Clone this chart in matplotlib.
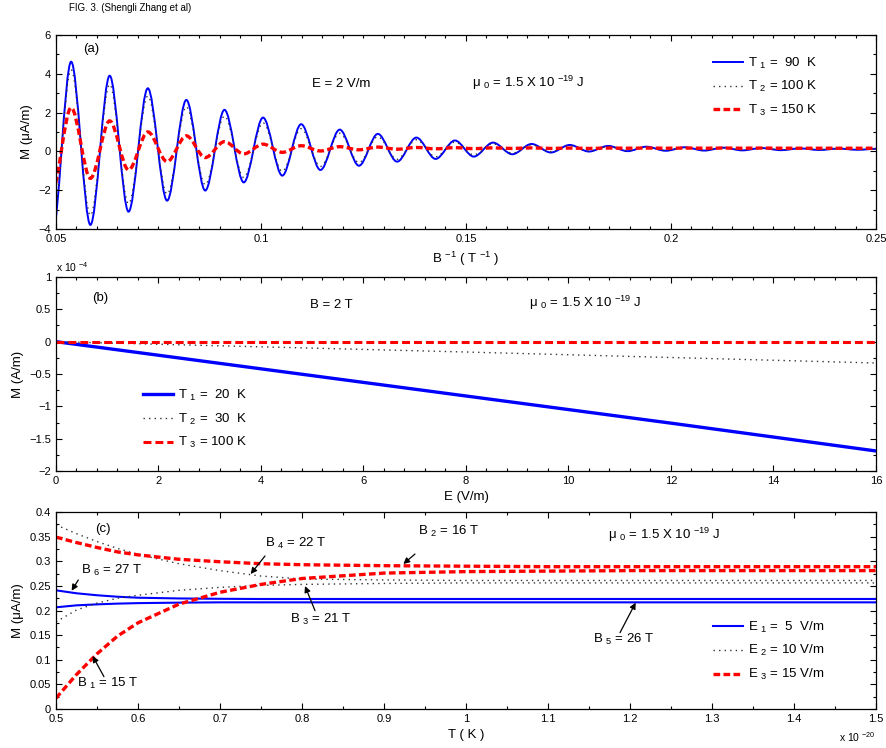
import matplotlib
matplotlib.use('Agg')
import matplotlib.pyplot as plt
from matplotlib.path import Path
from matplotlib.patches import PathPatch
from matplotlib.lines import Line2D
from matplotlib.ticker import MultipleLocator, FuncFormatter

plt.rcParams['font.family'] = ['Liberation Sans', 'DejaVu Sans']
plt.rcParams['mathtext.fontset'] = 'custom'
plt.rcParams['mathtext.rm'] = 'Liberation Sans'
plt.rcParams['mathtext.it'] = 'Liberation Sans:italic'
plt.rcParams['mathtext.bf'] = 'Liberation Sans:bold'

# ---------------------------------------------------------------
# (a) M vs 1/B : extrema of the oscillations (peaks / troughs)
# ---------------------------------------------------------------
inv_B = [0.0490, 0.0537, 0.0584, 0.0631, 0.0677, 0.0724, 0.0771, 0.0818, 0.0864,
         0.0911, 0.0958, 0.1005, 0.1052, 0.1098, 0.1145, 0.1192, 0.1239, 0.1285,
         0.1332, 0.1379, 0.1426, 0.1473, 0.1519, 0.1566, 0.1613, 0.1660, 0.1707,
         0.1753, 0.1800, 0.1847, 0.1894, 0.1940, 0.1987, 0.2034, 0.2081, 0.2128,
         0.2174, 0.2221, 0.2268, 0.2315, 0.2362, 0.2408, 0.2455, 0.2502]
M_a_T1 = [-4.55, 4.62, -3.79, 3.90, -3.11, 3.25, -2.54, 2.65, -2.02, 2.14, -1.60,
          1.74, -1.25, 1.40, -0.96, 1.12, -0.74, 0.90, -0.53, 0.71, -0.39, 0.56,
          -0.27, 0.45, -0.15, 0.38, -0.06, 0.33, -0.01, 0.28, 0.01, 0.24, 0.03,
          0.21, 0.04, 0.19, 0.05, 0.17, 0.06, 0.15, 0.07, 0.14, 0.08, 0.13]
M_a_T2 = [-4.00, 4.20, -3.30, 3.45, -2.70, 2.85, -2.20, 2.30, -1.72, 1.82, -1.35,
          1.47, -1.03, 1.17, -0.78, 0.93, -0.58, 0.75, -0.41, 0.60, -0.28, 0.48,
          -0.18, 0.39, -0.09, 0.33, -0.02, 0.29, 0.02, 0.25, 0.04, 0.22, 0.05,
          0.20, 0.06, 0.18, 0.07, 0.16, 0.08, 0.15, 0.09, 0.14, 0.09, 0.13]
M_a_T3 = [-2.10, 2.25, -1.39, 1.57, -0.96, 1.00, -0.53, 0.80, -0.32, 0.50, -0.13,
          0.37, -0.05, 0.29, 0.02, 0.24, 0.08, 0.22, 0.11, 0.20, 0.13, 0.19,
          0.14, 0.18, 0.15, 0.18, 0.15, 0.17, 0.15, 0.17, 0.16, 0.17, 0.16,
          0.17, 0.16, 0.17, 0.16, 0.17, 0.16, 0.16, 0.16, 0.16, 0.16, 0.16]
labels_a = [r'T $_1$ =  90  K', r'T $_2$ = 100 K', r'T $_3$ = 150 K']

# ---------------------------------------------------------------
# (b) M vs E  (values in units of 1e-4 A/m)
# ---------------------------------------------------------------
E_b = [0, 4, 8, 12, 16]
M_b_T1 = [0.0, -0.42, -0.84, -1.26, -1.69]
M_b_T2 = [0.0, -0.08, -0.16, -0.245, -0.33]
M_b_T3 = [0.0, 0.0, 0.0, 0.0, 0.0]
labels_b = [r'T $_1$ =  20  K', r'T $_2$ =  30  K', r'T $_3$ = 100 K']

# ---------------------------------------------------------------
# (c) M vs T  (T in units of 1e-20 K)
# ---------------------------------------------------------------
T_c = [0.5, 0.525, 0.55, 0.575, 0.6, 0.65, 0.7, 0.75, 0.8, 0.9, 1.0, 1.1, 1.2, 1.3, 1.4, 1.5]
M_c_B1 = [0.022, 0.070, 0.112, 0.148, 0.175, 0.213, 0.237, 0.253, 0.265, 0.276, 0.279,
          0.280, 0.281, 0.281, 0.281, 0.281]
M_c_B2 = [0.349, 0.338, 0.328, 0.319, 0.313, 0.304, 0.299, 0.295, 0.293, 0.291, 0.290,
          0.289, 0.289, 0.289, 0.289, 0.289]
M_c_B3 = [0.177, 0.201, 0.215, 0.225, 0.231, 0.241, 0.247, 0.251, 0.253, 0.255, 0.256,
          0.256, 0.256, 0.256, 0.256, 0.256]
M_c_B4 = [0.374, 0.356, 0.340, 0.326, 0.314, 0.295, 0.281, 0.270, 0.264, 0.262, 0.261,
          0.261, 0.261, 0.261, 0.261, 0.261]
M_c_B5 = [0.2065, 0.2105, 0.2125, 0.214, 0.215, 0.216, 0.2166, 0.2166, 0.2166, 0.2166,
          0.2166, 0.2166, 0.2166, 0.2166, 0.2166, 0.2166]
M_c_B6 = [0.241, 0.235, 0.231, 0.228, 0.226, 0.2245, 0.2238, 0.2234, 0.2234, 0.2234,
          0.2234, 0.2234, 0.2234, 0.2234, 0.2234, 0.2234]
labels_c = [r'E $_1$ =  5  V/m', r'E $_2$ = 10 V/m', r'E $_3$ = 15 V/m']

BLUE = '#0000ff'
RED = '#ff0000'
DOT = '#333333'
mu_text = r'μ $_0$ = 1.5 X 10 $^{-19}$ J'

# line styles: (color, lw, linestyle)
sty_solid_a = dict(color=BLUE, lw=1.4, linestyle='-')
sty_dot = dict(color=DOT, lw=1.0, linestyle=(0, (1, 3)))
sty_dash = dict(color=RED, lw=2.4, linestyle=(0, (2.0, 1.0)))


def smooth_path(xs, ys, k=1.0 / 3):
    """Bezier path through the extrema with flat tangents at each one."""
    verts = [(xs[0], ys[0])]
    codes = [Path.MOVETO]
    for i in range(len(xs) - 1):
        h = xs[i + 1] - xs[i]
        verts += [(xs[i] + k * h, ys[i]), (xs[i + 1] - k * h, ys[i + 1]), (xs[i + 1], ys[i + 1])]
        codes += [Path.CURVE4] * 3
    return Path(verts, codes)


def style_axes(ax):
    ax.tick_params(which='both', direction='in', top=True, right=True, labelsize=8, width=0.8)
    ax.tick_params(which='major', length=4.5)
    ax.tick_params(which='minor', length=2.5)
    fmt = FuncFormatter(lambda v, p: f'{v:g}'.replace('-', '\u2212'))
    ax.xaxis.set_major_formatter(fmt)
    ax.yaxis.set_major_formatter(fmt)
    for sp in ax.spines.values():
        sp.set_linewidth(0.9)


leg_kw = dict(loc='upper left', frameon=False, fontsize=9.5, handlelength=2.3,
              handletextpad=0.35, labelspacing=0.66, borderpad=0, borderaxespad=0)

fig = plt.figure(figsize=(8.87, 7.48), dpi=100)
fig.text(69 / 887, 1 - 8 / 748, 'FIG. 3. (Shengli Zhang et al)', fontsize=7, va='center')

ax_a = fig.add_axes([0.0631, 0.6939, 0.9245, 0.2594])
ax_b = fig.add_axes([0.0631, 0.3703, 0.9245, 0.2594])
ax_c = fig.add_axes([0.0631, 0.0521, 0.9245, 0.2634])

# ----------------------------- (a)
for ys, st in [(M_a_T1, sty_solid_a), (M_a_T2, sty_dot), (M_a_T3, sty_dash)]:
    ax_a.add_patch(PathPatch(smooth_path(inv_B, ys), fill=False, edgecolor=st['color'],
                             lw=st['lw'], linestyle=st['linestyle']))
ax_a.set_xlim(0.05, 0.25)
ax_a.set_ylim(-4, 6)
ax_a.xaxis.set_major_locator(MultipleLocator(0.05))
ax_a.xaxis.set_minor_locator(MultipleLocator(0.005))
ax_a.yaxis.set_major_locator(MultipleLocator(2))
ax_a.yaxis.set_minor_locator(MultipleLocator(1))
style_axes(ax_a)
ax_a.set_xlabel(r'B $^{-1}$ ( T $^{-1}$ )', fontsize=9.5)
ax_a.set_ylabel('M (μA/m)', fontsize=9.5)
ax_a.text(0.033, 0.928, '(a)', transform=ax_a.transAxes, fontsize=9.5, va='center')
ax_a.text(0.312, 0.747, 'E = 2 V/m', transform=ax_a.transAxes, fontsize=9.5, va='center')
ax_a.text(0.507, 0.754, mu_text, transform=ax_a.transAxes, fontsize=9.5, va='center')
handles_a = [Line2D([], [], **sty_solid_a), Line2D([], [], **sty_dot), Line2D([], [], **sty_dash)]
ax_a.legend(handles_a, labels_a, bbox_to_anchor=(0.801, 0.894), **leg_kw)

# ----------------------------- (b)
sty_solid_b = dict(color=BLUE, lw=2.4, linestyle='-')
sty_dash_b = dict(color=RED, lw=2.2, linestyle=(0, (2.6, 1.3)))
ax_b.plot(E_b, M_b_T1, **sty_solid_b, label=labels_b[0])
ax_b.plot(E_b, M_b_T2, **sty_dot, label=labels_b[1])
ax_b.plot(E_b, M_b_T3, **sty_dash_b, label=labels_b[2])
ax_b.set_xlim(0, 16)
ax_b.set_ylim(-2, 1)
ax_b.xaxis.set_major_locator(MultipleLocator(2))
ax_b.xaxis.set_minor_locator(MultipleLocator(0.4))
ax_b.yaxis.set_major_locator(MultipleLocator(0.5))
ax_b.yaxis.set_minor_locator(MultipleLocator(0.25))
style_axes(ax_b)
ax_b.set_xlabel('E (V/m)', fontsize=9.5)
ax_b.set_ylabel('M (A/m)', fontsize=9.5)
ax_b.text(0.0, 1.015, r'x 10 $^{-4}$', transform=ax_b.transAxes, fontsize=7.5, va='bottom')
ax_b.text(0.044, 0.892, '(b)', transform=ax_b.transAxes, fontsize=9.5, va='center')
ax_b.text(0.310, 0.856, 'B = 2 T', transform=ax_b.transAxes, fontsize=9.5, va='center')
ax_b.text(0.577, 0.866, mu_text, transform=ax_b.transAxes, fontsize=9.5, va='center')
ax_b.legend(bbox_to_anchor=(0.106, 0.429), **leg_kw)

# ----------------------------- (c)
sty_solid_c = dict(color=BLUE, lw=1.5, linestyle='-')
for ys in (M_c_B5, M_c_B6):
    ax_c.plot(T_c, ys, **sty_solid_c)
for ys in (M_c_B3, M_c_B4):
    ax_c.plot(T_c, ys, **sty_dot)
for ys in (M_c_B1, M_c_B2):
    ax_c.plot(T_c, ys, **sty_dash)
ax_c.set_xlim(0.5, 1.5)
ax_c.set_ylim(0, 0.4)
ax_c.xaxis.set_major_locator(MultipleLocator(0.1))
ax_c.xaxis.set_minor_locator(MultipleLocator(0.05))
ax_c.yaxis.set_major_locator(MultipleLocator(0.05))
ax_c.yaxis.set_minor_locator(MultipleLocator(0.025))
style_axes(ax_c)
ax_c.set_xlabel('T ( K )', fontsize=9.5)
ax_c.set_ylabel('M (μA/m)', fontsize=9.5)
ax_c.text(1.0, -0.14, r'x 10 $^{-20}$', transform=ax_c.transAxes, fontsize=7.5,
          ha='right', va='center')
ax_c.text(0.0476, 0.914, '(c)', transform=ax_c.transAxes, fontsize=9.5, va='center')
ax_c.text(0.673, 0.883, mu_text, transform=ax_c.transAxes, fontsize=9.5, va='center')

# annotation labels: (text, text position, arrow tail, arrow head)
notes_c = [
    (r'B $_6$ = 27 T', (0.5305, 0.282), (0.5272, 0.262), (0.5191, 0.2402)),
    (r'B $_4$ = 22 T', (0.7549, 0.336), (0.7549, 0.3107), (0.7374, 0.2741)),
    (r'B $_2$ = 16 T', (0.9418, 0.360), (0.9378, 0.3147), (0.9236, 0.2944)),
    (r'B $_3$ = 21 T', (0.7854, 0.181), (0.8159, 0.1997), (0.8037, 0.2497)),
    (r'B $_1$ = 15 T', (0.5260, 0.052), (0.5585, 0.0657), (0.5447, 0.1076)),
    (r'B $_5$ = 26 T', (1.1545, 0.1415), (1.1878, 0.155), (1.2069, 0.2159)),
]
for txt, tpos, tail, head in notes_c:
    ax_c.text(tpos[0], tpos[1], txt, fontsize=9.5, va='center', ha='left')
    ax_c.annotate('', xy=head, xytext=tail,
                  arrowprops=dict(arrowstyle='-|>', color='k', lw=0.9,
                                  mutation_scale=9, shrinkA=0, shrinkB=0))

handles_c = [Line2D([], [], **sty_solid_c), Line2D([], [], **sty_dot), Line2D([], [], **sty_dash)]
ax_c.legend(handles_c, labels_c, bbox_to_anchor=(0.801, 0.454), **leg_kw)

fig.savefig('out.png', dpi=100)
